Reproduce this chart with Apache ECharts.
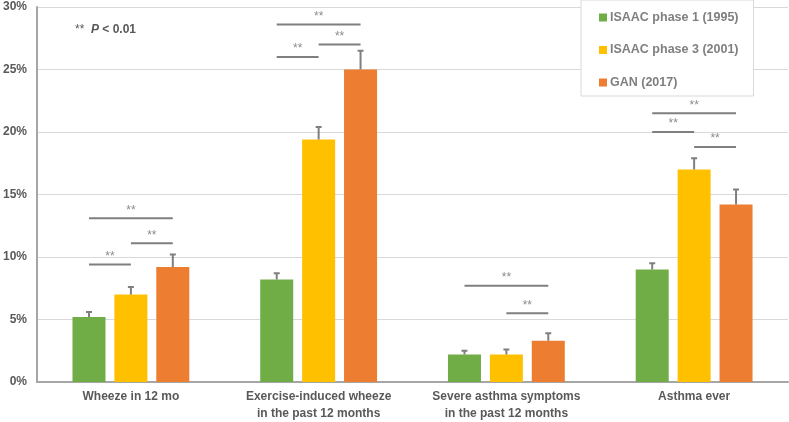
<!DOCTYPE html>
<html><head><meta charset="utf-8">
<script src="https://cdn.jsdelivr.net/npm/echarts@6/dist/echarts.min.js"></script>
<style>html,body{margin:0;padding:0;background:#fff}#c{width:789px;height:422px}</style>
</head><body><div id="c"></div>
<script>
const categories = ['Wheeze in 12 mo', 'Exercise-induced wheeze\nin the past 12 months', 'Severe asthma symptoms\nin the past 12 months', 'Asthma ever'];
const seriesNames = ['ISAAC phase 1 (1995)', 'ISAAC phase 3 (2001)', 'GAN (2017)'];
const phase1 = [5.2, 8.2, 2.2, 9.0];
const phase3 = [7.0, 19.4, 2.2, 17.0];
const gan2017 = [9.2, 25.0, 3.3, 14.2];
const phase1Err = [5.6, 8.7, 2.5, 9.5];
const phase3Err = [7.6, 20.4, 2.6, 17.9];
const gan2017Err = [10.2, 26.5, 3.9, 15.4];
// significance brackets: [category index, from bar, to bar, level %]
const sigBrackets = [
  [0, 0, 1, 9.4], [0, 1, 2, 11.1], [0, 0, 2, 13.1],
  [1, 0, 1, 26.0], [1, 1, 2, 27.0], [1, 0, 2, 28.6],
  [2, 1, 2, 5.5], [2, 0, 2, 7.7],
  [3, 0, 1, 20.0], [3, 1, 2, 18.8], [3, 0, 2, 21.5]
];
const yTicks = [0, 5, 10, 15, 20, 25, 30];

const colors = ['#70AD47', '#FFC000', '#ED7D31'];
const BAR_W = 33, BAR_GAP = 0.27;
const step = BAR_W * (1 + BAR_GAP);
const vals = [phase1, phase3, gan2017];
const errs = [phase1Err, phase3Err, gan2017Err];
const FONT = 'Arial, "Liberation Sans", sans-serif';

const chart = echarts.init(document.getElementById('c'), null, {renderer: 'canvas'});

const barSeries = seriesNames.map((n, i) => ({
  name: n, type: 'bar', data: vals[i], barWidth: BAR_W, barGap: (BAR_GAP*100) + '%',
  itemStyle: {color: colors[i]}, z: 2
}));

const errSeries = [0,1,2].map(si => ({
  type: 'custom', name: 'err' + si, z: 3,
  data: categories.map((c, k) => [k, vals[si][k], errs[si][k]]),
  renderItem: function (params, api) {
    const k = api.value(0);
    const p0 = api.coord([k, api.value(1)]);
    const p1 = api.coord([k, api.value(2)]);
    const x = p0[0] + (si - 1) * step;
    const st = {stroke: '#7f7f7f', lineWidth: 2};
    return {type: 'group', children: [
      {type: 'line', shape: {x1: x, y1: p0[1], x2: x, y2: p1[1]}, style: st},
      {type: 'line', shape: {x1: x - 3, y1: p1[1], x2: x + 3, y2: p1[1]}, style: st}
    ]};
  }
}));

const sigSeries = {
  type: 'custom', name: 'sig', z: 4,
  data: sigBrackets,
  renderItem: function (params, api) {
    const k = api.value(0);
    const p = api.coord([k, api.value(3)]);
    const xa = p[0] + (api.value(1) - 1) * step;
    const xb = p[0] + (api.value(2) - 1) * step;
    return {type: 'group', children: [
      {type: 'line', shape: {x1: xa, y1: p[1], x2: xb, y2: p[1]}, style: {stroke: '#7f7f7f', lineWidth: 2}},
      {type: 'text', x: (xa + xb) / 2, y: p[1] - 2, style: {text: '**', fill: '#8c8c8c', font: '12px ' + FONT, align: 'center', verticalAlign: 'bottom'}}
    ]};
  }
};

chart.setOption({
  animation: false,
  grid: {left: 36, right: 1, top: 7, bottom: 38, containLabel: false},
  legend: {
    data: seriesNames, orient: 'vertical', left: 581, top: 0,
    padding: [11, 15, 7, 18], itemGap: 19.5, itemWidth: 8, itemHeight: 8,
    backgroundColor: '#fff', borderColor: '#d9d9d9', borderWidth: 1,
    icon: 'rect', z: 10,
    textStyle: {color: '#7f7f7f', fontWeight: 'bold', fontSize: 12.5, fontFamily: FONT, padding: [0,0,0,-2]}
  },
  xAxis: {
    type: 'category', data: categories,
    axisLine: {lineStyle: {color: '#a6a6a6', width: 2}},
    axisTick: {show: false},
    axisLabel: {color: '#595959', fontWeight: 'bold', fontSize: 12, fontFamily: FONT, margin: 6, lineHeight: 17, interval: 0}
  },
  yAxis: {
    type: 'value', min: yTicks[0], max: yTicks[yTicks.length-1], interval: 5,
    axisLine: {show: true, lineStyle: {color: '#a6a6a6', width: 2}},
    axisTick: {show: false},
    splitLine: {lineStyle: {color: '#d9d9d9', width: 1}},
    axisLabel: {color: '#595959', fontWeight: 'bold', fontSize: 12, fontFamily: FONT, margin: 10, formatter: '{value}%'}
  },
  graphic: [{
    type: 'text', left: 75, top: 24, z: 10,
    style: {rich: {a: {fill: '#595959', fontSize: 12, fontFamily: FONT}, b: {fill: '#595959', fontSize: 12, fontWeight: 'bold', fontStyle: 'italic', fontFamily: FONT}, c: {fill: '#595959', fontSize: 12, fontWeight: 'bold', fontFamily: FONT}},
      text: '{a|**  }{b|P}{c| < 0.01}'}
  }],
  series: [...barSeries, ...errSeries, sigSeries]
});
</script></body></html>
